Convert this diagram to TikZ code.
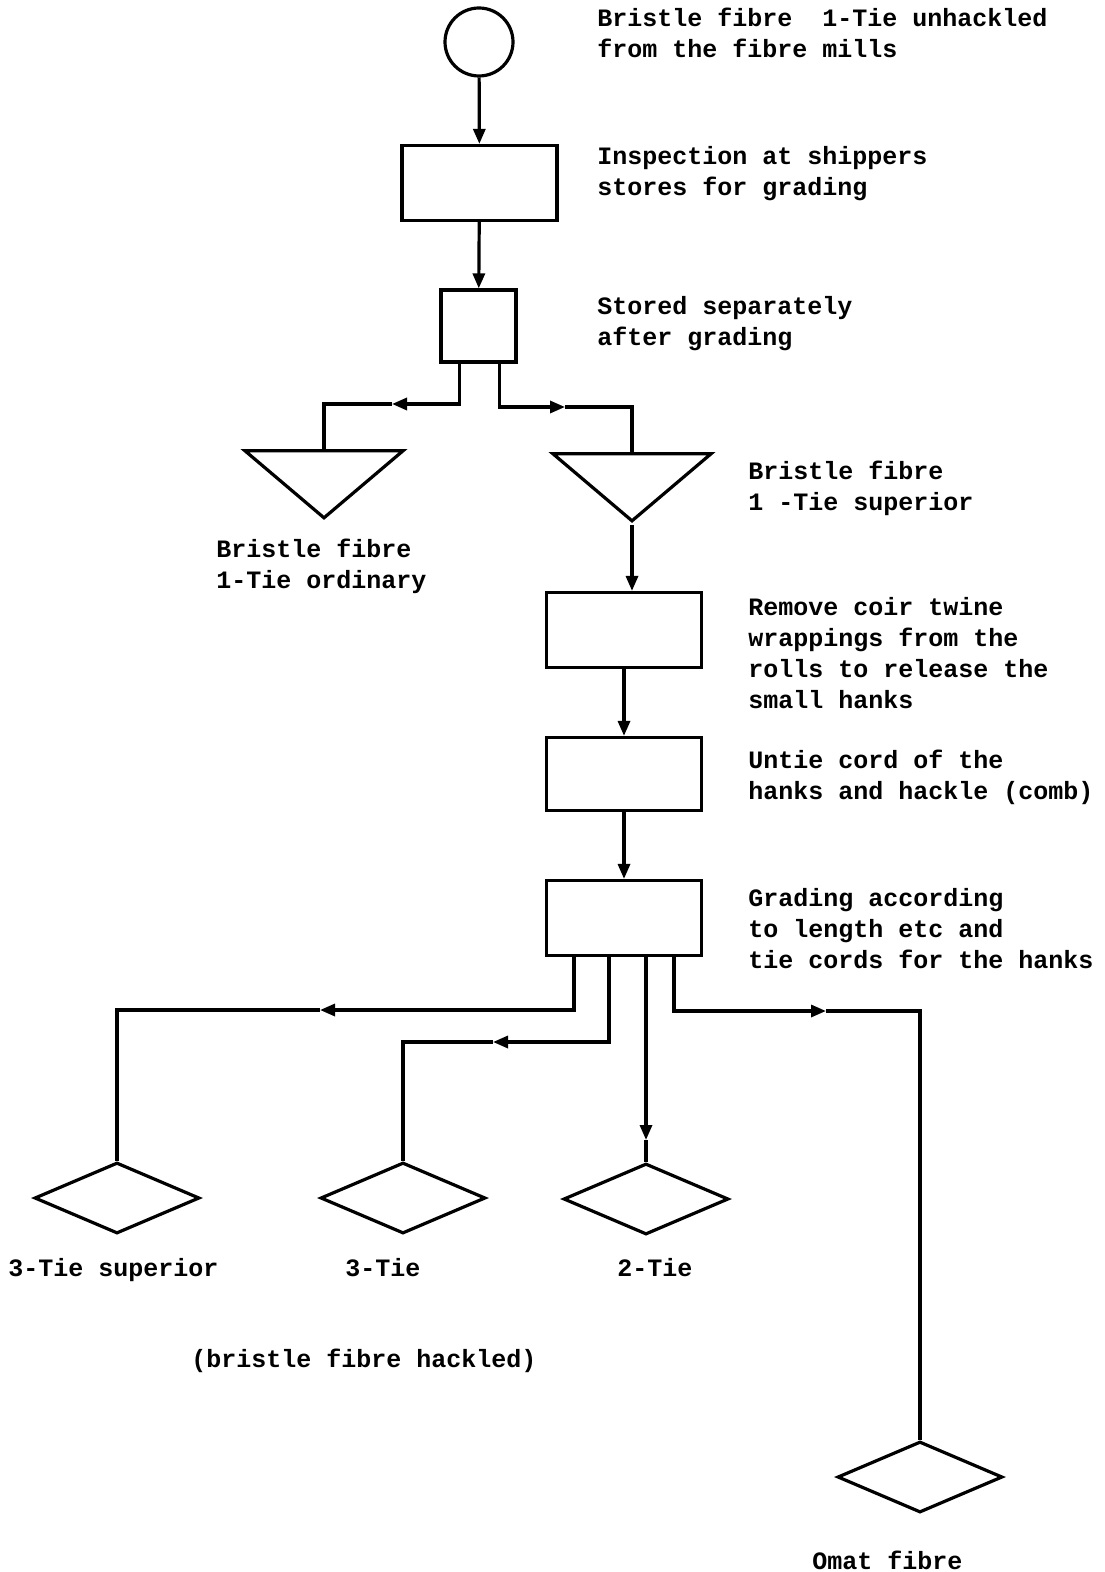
\documentclass[tikz,border=0pt]{standalone}
\usepackage{fontspec}
\newfontfamily\typewriter{Liberation Mono}
\usetikzlibrary{shapes.geometric, arrows.meta, positioning, calc}

\tikzset{
  line/.style={line width=1.6pt},
  flow/.style={line, -{Triangle[length=7.5pt, width=6pt]}},
  supply/.style={draw, circle, line width=1.6pt, minimum size=34pt, inner sep=0pt},
  stepbox/.style={draw, rectangle, line width=1.6pt, minimum width=77.5pt, minimum height=37.5pt, inner sep=0pt},
  holdtri/.style={draw, isosceles triangle, isosceles triangle stretches, shape border rotate=270,
    line width=1.6pt, minimum width=79pt, minimum height=33.5pt, inner sep=0pt},
  product/.style={draw, diamond, line width=1.6pt, minimum width=82.5pt, minimum height=35.5pt, inner sep=0pt},
  note/.style={anchor=north west, inner sep=0pt, align=left, font=\typewriter\bfseries\fontsize{12.5pt}{15.5pt}\selectfont}
}

\begin{document}
\begin{tikzpicture}[x=0.5pt, y=-0.5pt]
    \useasboundingbox (0,0) rectangle (1104,1572);

    % stages
    \node[supply] (mills) at (479,42) {};
    \node[stepbox] (inspect) at (479.5,183) {};
    \node[stepbox, minimum width=37.5pt, minimum height=36pt] (store) at (478.5,326) {};
    \node[holdtri, anchor=apex] (ord) at (324,522) {};
    \node[holdtri, anchor=apex] (sup) at (632,525) {};
    \node[stepbox] (unwrap) at (624,630) {};
    \node[stepbox, minimum height=36.5pt] (comb) at (624,774) {};
    \node[stepbox] (grade) at (624,918) {};
    \node[product] (tiesup) at (117,1198) {};
    \node[product] (tiethree) at (403,1198) {};
    \node[product] (tietwo) at (646,1199) {};
    \node[product] (omat) at (920,1477) {};

    % descriptions
    \node[note] (millstxt) at (597,8) {Bristle fibre\ \ 1-Tie unhackled\\from the fibre mills};
    \node[note] (inspecttxt) at (597,146) {Inspection at shippers\\stores for grading};
    \node[note] (storetxt) at (597,296) {Stored separately\\after grading};
    \node[note] (ordtxt) at (216,539) {Bristle fibre\\1-Tie ordinary};
    \node[note] (suptxt) at (748,461) {Bristle fibre\\1 -Tie superior};
    \node[note] (unwraptxt) at (748,597) {Remove coir twine\\wrappings from the\\rolls to release the\\small hanks};
    \node[note] (combtxt) at (748,750) {Untie cord of the\\hanks and hackle (comb)};
    \node[note] (gradetxt) at (748,888) {Grading according\\to length etc and\\tie cords for the hanks};
    \node[note] (tiesuptxt) at (8,1258) {3-Tie superior};
    \node[note] (tiethreetxt) at (345,1258) {3-Tie};
    \node[note] (tietwotxt) at (617,1258) {2-Tie};
    \node[note] (hackledtxt) at (191,1349) {(bristle fibre hackled)};
    \node[note] (omattxt) at (812,1551) {Omat fibre};

    % arrow points on the branches
    \coordinate (ordarrow) at (392,404);
    \coordinate (suparrow) at (565,407);
    \coordinate (supsplit) at (320,1010);
    \coordinate (threesplit) at (493,1042);
    \coordinate (twosplit) at (646,1140);
    \coordinate (omatsplit) at (826,1011);

    \draw[flow] (mills) -- (inspect);
    \draw[flow] (inspect) -- (store);
    \draw[flow] ($(store.south)+(-19,0)$) |- (ordarrow);
    \draw[line] (ordarrow) -| (ord.lower side);
    \draw[flow] ($(store.south)+(21,0)$) |- (suparrow);
    \draw[line] (suparrow) -| (sup.lower side);
    \draw[flow] (sup.apex) -- (sup.apex |- unwrap.north);
    \draw[flow] (unwrap) -- (comb);
    \draw[flow] (comb) -- (grade);

    % grading splits
    \draw[flow] ($(grade.south)+(-50,0)$) |- (supsplit);
    \draw[line] (supsplit) -| (tiesup.north);
    \draw[flow] ($(grade.south)+(-15,0)$) |- (threesplit);
    \draw[line] (threesplit) -| (tiethree.north);
    \draw[flow] ($(grade.south)+(22,0)$) -- (twosplit);
    \draw[line] (twosplit) -- (tietwo.north);
    \draw[flow] ($(grade.south)+(50,0)$) |- (omatsplit);
    \draw[line] (omatsplit) -| (omat.north);
\end{tikzpicture}
\end{document}
